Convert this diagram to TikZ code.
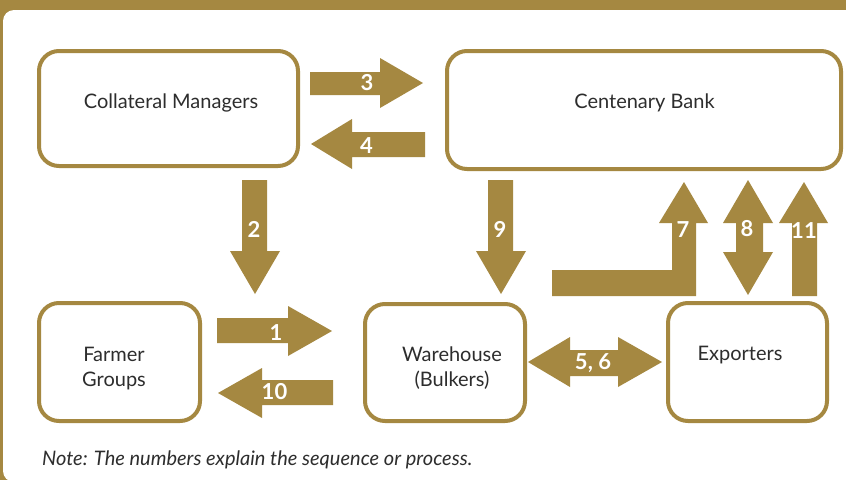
\documentclass[tikz,border=0pt]{standalone}
\usepackage{fontspec}
\setmainfont{Lato}
\definecolor{gold}{RGB}{165,136,65}
\definecolor{txtc}{RGB}{45,45,45}
\begin{document}
\begin{tikzpicture}[x=1pt,y=-1pt,
  box/.style={draw=gold, line width=4pt, rounded corners=20pt, fill=white, inner sep=0pt},
  lbl/.style={text=txtc, font=\fontsize{20}{25}\selectfont, align=center, inner sep=0pt},
  num/.style={text=white, font=\bfseries\fontsize{22}{24}\selectfont, inner sep=0pt},
  fat/.style={fill=gold}]
\useasboundingbox (0,0) rectangle (846,480);
\fill[gold] (0,0) rectangle (846,480);
\fill[white, rounded corners=11pt] (3,10) rectangle (880,482);
% boxes
\node[box, minimum width=259pt, minimum height=115pt] (cm) at (168.5,108.5) {};
\node[box, minimum width=394pt, minimum height=118pt] (cb) at (644,110) {};
\node[box, minimum width=161pt, minimum height=118pt] (fg) at (119.5,362) {};
\node[box, minimum width=160pt, minimum height=117pt] (wh) at (445,362.5) {};
\node[box, minimum width=159pt, minimum height=118pt] (ex) at (747.5,362) {};
% texts
\node[lbl] (cmt) at (171,103) {Collateral Managers};
\node[lbl] (cbt) at (644.5,103) {Centenary Bank};
\node[lbl] (fgt) at (114,368.5) {Farmer\\Groups};
\node[lbl] (wht) at (452,368.5) {Warehouse\\(Bulkers)};
\node[lbl] (ext) at (740,355) {Exporters};
% fat arrows
\fill[fat] (310,72) -- (380,72) -- (380,58) -- (423,83) -- (380,108) -- (380,95) -- (310,95) -- cycle;
\fill[fat] (425,132) -- (352,132) -- (352,119) -- (311,144) -- (352,169) -- (352,157) -- (425,157) -- cycle;
\fill[fat] (242,180) -- (267,180) -- (267,251) -- (280,251) -- (255,294) -- (230,251) -- (242,251) -- cycle;
\fill[fat] (488,180) -- (513,180) -- (513,251) -- (526,251) -- (501,294) -- (476,251) -- (488,251) -- cycle;
\fill[fat] (217,318) -- (288,318) -- (288,306) -- (332,331) -- (288,356) -- (288,343) -- (217,343) -- cycle;
\fill[fat] (333,380) -- (262,380) -- (262,368) -- (218,393) -- (262,418) -- (262,405) -- (333,405) -- cycle;
\fill[fat] (528,362) -- (570,337) -- (570,350) -- (618,350) -- (618,337) -- (662,362) -- (618,387) -- (618,376) -- (570,376) -- (570,387) -- cycle;
\fill[fat] (552,270) -- (672,270) -- (672,223) -- (659,223) -- (684,182) -- (708,223) -- (696,223) -- (696,296) -- (552,296) -- cycle;
\fill[fat] (748,180) -- (773,223) -- (763,223) -- (763,252) -- (773,252) -- (748,295) -- (723,252) -- (736,252) -- (736,223) -- (723,223) -- cycle;
\fill[fat] (804,182) -- (828,223) -- (817,223) -- (817,296) -- (792,296) -- (792,223) -- (779,223) -- cycle;
% numbers
\node[num] (n1) at (276,333) {1};
\node[num] (n2) at (254,229) {2};
\node[num] (n3) at (367,83) {3};
\node[num] (n4) at (366.5,146) {4};
\node[num] (n56) at (593,363) {5, 6};
\node[num] (n7) at (683,229.5) {7};
\node[num] (n8) at (747,229) {8};
\node[num] (n9) at (500,229) {9};
\node[num] (n10) at (274.5,392) {10};
\node[num] (n11) at (804,231) {11};
% note
\node[text=txtc, font=\itshape\fontsize{20}{24}\selectfont, anchor=west, inner sep=0pt] (note) at (42,460) {Note: The numbers explain the sequence or process.};
\end{tikzpicture}
\end{document}
